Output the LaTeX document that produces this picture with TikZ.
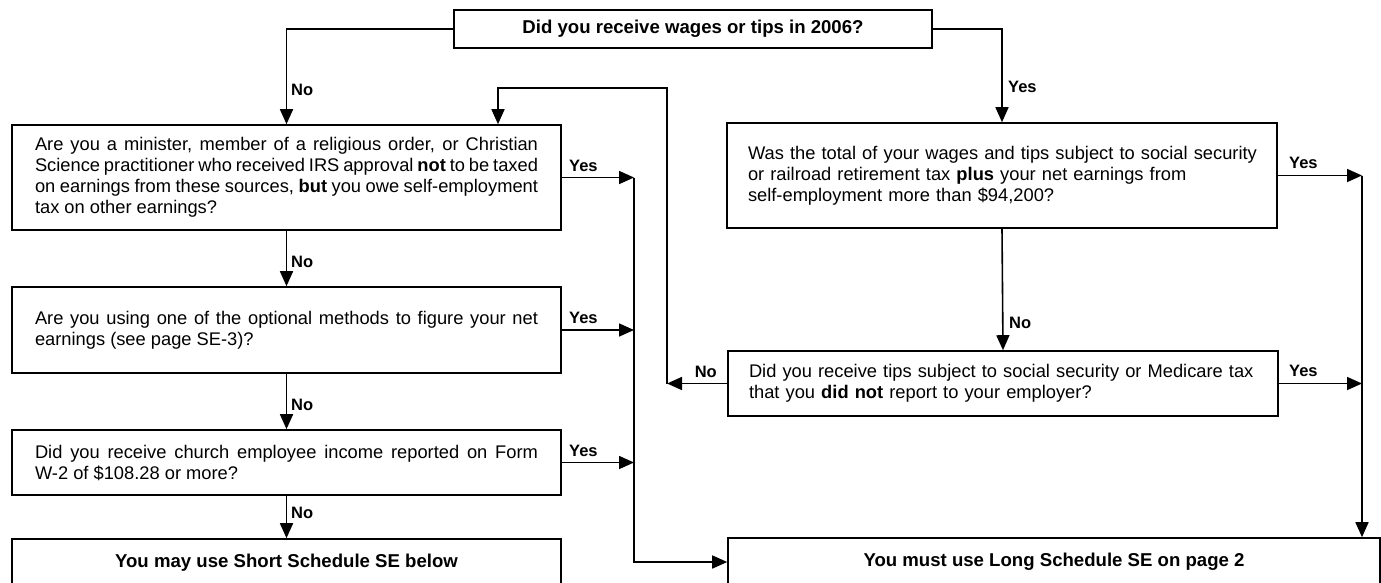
\documentclass[tikz,border=0pt]{standalone}
\usepackage{fontspec}
\setmainfont{Liberation Sans}
\usetikzlibrary{arrows.meta,positioning}

\begin{document}
\begin{tikzpicture}[x=1pt,y=1pt,
    qbox/.style={draw,line width=1.6pt,inner sep=0pt,font=\fontsize{18.3}{21}\selectfont},
    endbox/.style={qbox,font=\fontsize{18.6}{21}\selectfont\bfseries},
    flow/.style={line width=1.6pt,-{Triangle[length=15pt,width=13pt]}},
    ans/.style={font=\fontsize{16.5}{19}\selectfont\bfseries,inner sep=0pt}
  ]
  \useasboundingbox (0,0) rectangle (1381,-582);

  % questions
  \node[endbox,minimum width=478,minimum height=38] (wages) at (693,-29)
    {Did you receive wages or tips in 2006?};

  \node[qbox,minimum width=549,minimum height=105,text width=503,align=justify]
    (minister) at (286.5,-177.5) {Are you a minister, member of a religious order, or Christian\linebreak
      Science practitioner who received IRS approval \textbf{not} to be taxed\linebreak
      on earnings from these sources, \textbf{but} you owe self-employment\linebreak
      tax on other earnings?};

  \node[qbox,minimum width=549,minimum height=86,text width=503,align=justify]
    (optional) at (286.5,-330) {Are you using one of the optional methods to figure your net\linebreak
      earnings (see page SE-3)?};

  \node[qbox,minimum width=549,minimum height=65,text width=503,align=justify]
    (church) at (286.5,-462.5) {Did you receive church employee income reported on Form\linebreak
      W-2 of \$108.28 or more?};

  \node[qbox,minimum width=550,minimum height=105,text width=508,align=left]
    (total) at (1002,-175.5) {\mbox{Was the total of your wages and tips subject to social security}\\
      or railroad retirement tax \textbf{plus} your net earnings from\\
      self-employment more than \$94,200?};

  \node[qbox,minimum width=550,minimum height=65,text width=508,align=left]
    (tips) at (1003,-383.5) {\mbox{Did you receive tips subject to social security or Medicare tax}\\
      that you \textbf{did not} report to your employer?};

  % results
  \node[endbox,minimum width=549,minimum height=48] (short) at (286.5,-563)
    {You may use Short Schedule SE below};
  \node[endbox,minimum width=652,minimum height=48] (long) at (1054,-562)
    {You must use Long Schedule SE on page 2};

  \coordinate (bus) at (634,0);
  \coordinate (rbus) at (1362,0);
  \coordinate (loopR) at (667,-88);
  \coordinate (loopL) at (498,-88);

  \draw[flow] (wages.west) -| (minister.north);
  \draw[flow] (wages.east) -| (total.north);
  \draw[flow] (minister.south) -- (optional.north);
  \draw[flow] (optional.south) -- (church.north);
  \draw[flow] (church.south) -- (short.north);
  \draw[flow] (minister.east) -- (minister.east -| bus);
  \draw[flow] (optional.east) -- (optional.east -| bus);
  \draw[flow] (church.east) -- (church.east -| bus);
  \draw[flow] (minister.east -| bus) |- (long.west);
  \draw[flow] (total.east) -- (total.east -| rbus);
  \draw[flow] (tips.east) -- (tips.east -| rbus);
  \draw[flow] (total.east -| rbus) -- (rbus |- long.north);
  \draw[flow] (total.south) -- (tips.north);
  \draw[flow] (tips.west) -- (tips.west -| loopR);
  \draw[flow] (tips.west -| loopR) -- (loopR) -- (loopL) -- (loopL |- minister.north);

  % answers
  \node[ans,anchor=west] (noMin) at (291,-90) {No};
  \node[ans,anchor=west] (yesTot) at (1008,-87) {Yes};
  \node[ans,anchor=west] (yesMin) at (569,-166) {Yes};
  \node[ans,anchor=west] (noOpt) at (291,-262) {No};
  \node[ans,anchor=west] (yesOpt) at (569,-318) {Yes};
  \node[ans,anchor=west] (noCh) at (291,-405) {No};
  \node[ans,anchor=west] (yesCh) at (569,-451) {Yes};
  \node[ans,anchor=west] (noSh) at (291,-513) {No};
  \node[ans,anchor=west] (yesTotR) at (1289,-163) {Yes};
  \node[ans,anchor=west] (noTips) at (1009,-323) {No};
  \node[ans,anchor=west] (yesTips) at (1289,-371) {Yes};
  \node[ans,anchor=east] (noLoop) at (717,-372) {No};
\end{tikzpicture}
\end{document}
